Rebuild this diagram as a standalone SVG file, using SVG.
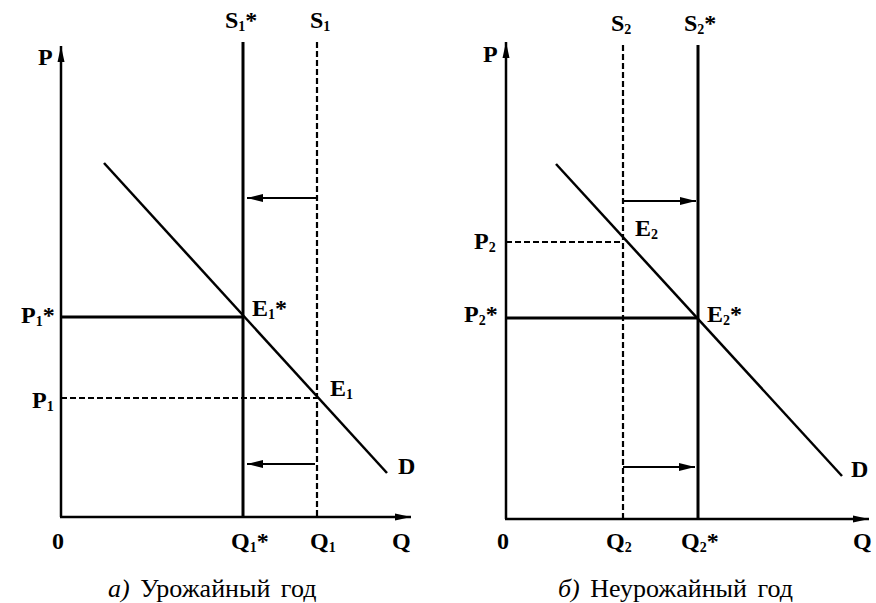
<svg xmlns="http://www.w3.org/2000/svg" width="876" height="603" viewBox="0 0 876 603">
<style>
.ax{stroke:#000;stroke-width:2.5;fill:none}
.sol{stroke:#000;stroke-width:3;fill:none}
.dm{stroke:#000;stroke-width:2.5;fill:none}
.dsh{stroke:#000;stroke-width:2.2;fill:none;stroke-dasharray:6,3}
.sh{stroke:#000;stroke-width:2;fill:none}
.lb{font-family:"Liberation Serif","Times New Roman",serif;font-weight:bold;font-size:24px;fill:#000}
.sb{font-size:14px}
.cap{font-family:"Liberation Serif","Times New Roman",serif;font-size:26px;fill:#000;word-spacing:4px}
</style>
<defs>
<marker id="ah" markerUnits="userSpaceOnUse" markerWidth="16" markerHeight="8" refX="16" refY="4" orient="auto">
<path d="M0,0 L16,4 L0,8 z" fill="#000"/>
</marker>
<marker id="axh" markerUnits="userSpaceOnUse" markerWidth="16" markerHeight="8" refX="16" refY="4" orient="auto">
<path d="M0,0.5 L16,4 L0,7.5 z" fill="#000"/>
</marker>
</defs>

<g id="panel-a">
<g id="axes-a">
<line class="ax" x1="61" y1="517" x2="61" y2="46" marker-end="url(#axh)"/>
<line class="ax" x1="60" y1="517" x2="411" y2="517" marker-end="url(#axh)"/>
</g>
<g id="connectors-a">
<line class="sol" x1="243" y1="42" x2="243" y2="517"/>
<line class="dsh" x1="317" y1="42" x2="317" y2="517"/>
<line class="dm" x1="104" y1="163" x2="387" y2="473"/>
<line class="sol" x1="61" y1="317" x2="243" y2="317"/>
<line class="dsh" x1="61" y1="398" x2="317" y2="398"/>
<line class="sh" x1="317" y1="198" x2="247" y2="198" marker-end="url(#ah)"/>
<line class="sh" x1="315" y1="464" x2="247" y2="464" marker-end="url(#ah)"/>
</g>
<g id="labels-a">
<text class="lb" x="38" y="65">P</text>
<text class="lb" x="225" y="28">S<tspan class="sb" dy="3">1</tspan><tspan dy="-3">*</tspan></text>
<text class="lb" x="310" y="28">S<tspan class="sb" dy="3">1</tspan></text>
<text class="lb" x="21" y="323">P<tspan class="sb" dy="3">1</tspan><tspan dy="-3">*</tspan></text>
<text class="lb" x="32" y="408">P<tspan class="sb" dy="3">1</tspan></text>
<text class="lb" x="252" y="316">E<tspan class="sb" dy="3">1</tspan><tspan dy="-3">*</tspan></text>
<text class="lb" x="330" y="396">E<tspan class="sb" dy="3">1</tspan></text>
<text class="lb" x="398" y="474">D</text>
<text class="lb" x="52" y="549">0</text>
<text class="lb" x="231" y="549">Q<tspan class="sb" dy="3">1</tspan><tspan dy="-3">*</tspan></text>
<text class="lb" x="310" y="549">Q<tspan class="sb" dy="3">1</tspan></text>
<text class="lb" x="392" y="549">Q</text>
<text class="cap" x="108" y="597"><tspan font-style="italic">а)</tspan> Урожайный год</text>
</g>
</g>

<g id="panel-b">
<g id="axes-b">
<line class="ax" x1="506" y1="519" x2="506" y2="42" marker-end="url(#axh)"/>
<line class="ax" x1="505" y1="519" x2="869" y2="519" marker-end="url(#axh)"/>
</g>
<g id="connectors-b">
<line class="dsh" x1="623" y1="45" x2="623" y2="519"/>
<line class="sol" x1="698" y1="45" x2="698" y2="519"/>
<line class="dm" x1="556" y1="164" x2="842" y2="476"/>
<line class="dsh" x1="506" y1="242" x2="623" y2="242"/>
<line class="sol" x1="506" y1="318" x2="698" y2="318"/>
<line class="sh" x1="623" y1="201" x2="696" y2="201" marker-end="url(#ah)"/>
<line class="sh" x1="623" y1="467" x2="695" y2="467" marker-end="url(#ah)"/>
</g>
<g id="labels-b">
<text class="lb" x="483" y="62">P</text>
<text class="lb" x="611" y="31">S<tspan class="sb" dy="3">2</tspan></text>
<text class="lb" x="684" y="31">S<tspan class="sb" dy="3">2</tspan><tspan dy="-3">*</tspan></text>
<text class="lb" x="474" y="249">P<tspan class="sb" dy="3">2</tspan></text>
<text class="lb" x="635" y="236">E<tspan class="sb" dy="3">2</tspan></text>
<text class="lb" x="464" y="322">P<tspan class="sb" dy="3">2</tspan><tspan dy="-3">*</tspan></text>
<text class="lb" x="707" y="322">E<tspan class="sb" dy="3">2</tspan><tspan dy="-3">*</tspan></text>
<text class="lb" x="851" y="477">D</text>
<text class="lb" x="497" y="549">0</text>
<text class="lb" x="606" y="549">Q<tspan class="sb" dy="3">2</tspan></text>
<text class="lb" x="681" y="549">Q<tspan class="sb" dy="3">2</tspan><tspan dy="-3">*</tspan></text>
<text class="lb" x="853" y="549">Q</text>
<text class="cap" x="558" y="597"><tspan font-style="italic">б)</tspan> Неурожайный год</text>
</g>
</g>
</svg>
